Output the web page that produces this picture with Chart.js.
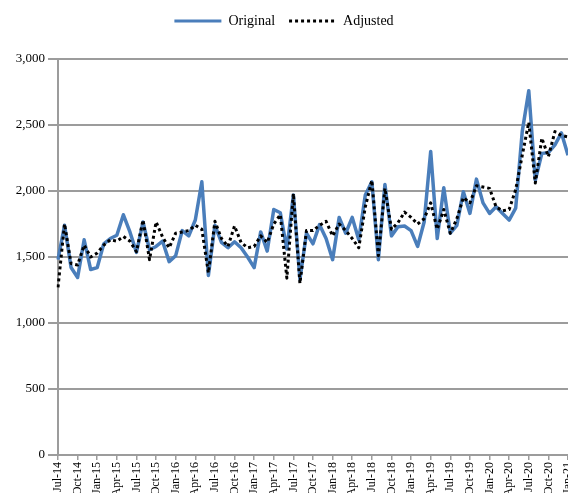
<!DOCTYPE html>
<html>
<head>
<meta charset="utf-8">
<script src="https://cdn.jsdelivr.net/npm/chart.js@4/dist/chart.umd.min.js"></script>
<style>
  html, body { margin: 0; padding: 0; background: #fff; overflow: hidden; width: 568px; height: 493px; }
  #wrap { position: absolute; left: 0; top: 0; width: 600px; height: 515px; }
</style>
</head>
<body>
<div id="wrap"><canvas id="c" width="600" height="515"></canvas></div>
<script>
const months = [
  "Jul-14","Aug-14","Sep-14","Oct-14","Nov-14","Dec-14",
  "Jan-15","Feb-15","Mar-15","Apr-15","May-15","Jun-15","Jul-15","Aug-15","Sep-15","Oct-15","Nov-15","Dec-15",
  "Jan-16","Feb-16","Mar-16","Apr-16","May-16","Jun-16","Jul-16","Aug-16","Sep-16","Oct-16","Nov-16","Dec-16",
  "Jan-17","Feb-17","Mar-17","Apr-17","May-17","Jun-17","Jul-17","Aug-17","Sep-17","Oct-17","Nov-17","Dec-17",
  "Jan-18","Feb-18","Mar-18","Apr-18","May-18","Jun-18","Jul-18","Aug-18","Sep-18","Oct-18","Nov-18","Dec-18",
  "Jan-19","Feb-19","Mar-19","Apr-19","May-19","Jun-19","Jul-19","Aug-19","Sep-19","Oct-19","Nov-19","Dec-19",
  "Jan-20","Feb-20","Mar-20","Apr-20","May-20","Jun-20","Jul-20","Aug-20","Sep-20","Oct-20","Nov-20","Dec-20",
  "Jan-21"
];

const original = [
  1480,1740,1420,1345,1630,1405,
  1420,1600,1640,1665,1820,1690,1535,1765,1555,1580,1620,1465,
  1510,1700,1660,1780,2070,1360,1740,1610,1570,1615,1570,1500,
  1420,1690,1545,1860,1835,1560,1970,1330,1680,1600,1745,1640,
  1480,1800,1680,1800,1630,1970,2070,1480,2050,1660,1730,1735,
  1700,1580,1765,2300,1640,2025,1680,1740,1995,1830,2090,1910,
  1830,1880,1830,1780,1870,2450,2760,2080,2285,2290,2350,2440,
  2270
];

const adjusted = [
  1270,1750,1450,1440,1590,1500,
  1530,1590,1630,1620,1655,1620,1540,1780,1480,1765,1650,1570,
  1680,1690,1700,1740,1710,1380,1770,1640,1580,1735,1610,1570,
  1580,1660,1610,1750,1820,1340,1980,1300,1700,1700,1740,1770,
  1660,1750,1700,1640,1570,1880,2080,1510,2020,1710,1760,1840,
  1800,1750,1790,1910,1710,1860,1680,1790,1950,1910,2040,2030,
  2020,1880,1850,1860,2010,2270,2520,2060,2400,2260,2450,2420,
  2410
];

const yTicks = [0, 500, 1000, 1500, 2000, 2500, 3000];
const seriesNames = ["Original", "Adjusted"];

const GRID = '#9c9c9c';
const SERIF = '"Liberation Serif", "Times New Roman", serif';

new Chart(document.getElementById('c'), {
  type: 'line',
  data: {
    labels: months,
    datasets: [
      {
        label: seriesNames[0],
        data: original,
        borderColor: '#4a7ebb',
        backgroundColor: '#4a7ebb',
        borderWidth: 3.5,
        borderJoinStyle: 'round',
        pointRadius: 0,
        tension: 0,
        order: 1
      },
      {
        label: seriesNames[1],
        data: adjusted,
        borderColor: '#000000',
        backgroundColor: '#000000',
        borderWidth: 3,
        borderDash: [3, 3],
        borderCapStyle: 'butt',
        borderJoinStyle: 'round',
        pointRadius: 0,
        tension: 0,
        order: 0
      }
    ]
  },
  options: {
    responsive: false,
    animation: false,
    layout: { padding: { left: 0, right: 32, top: 0, bottom: 0 } },
    plugins: {
      tooltip: { enabled: false },
      legend: {
        display: true,
        position: 'top',
        align: 'center',
        labels: {
          usePointStyle: true,
          pointStyle: 'line',
          pointStyleWidth: 47,
          boxHeight: 14,
          padding: 14,
          color: '#000',
          font: { family: SERIF, size: 14 },
          sort: (a, b) => a.datasetIndex - b.datasetIndex,
          generateLabels: (chart) => {
            const items = Chart.defaults.plugins.legend.labels.generateLabels(chart);
            items.forEach((it) => {
              const ds = chart.data.datasets[it.datasetIndex];
              it.pointStyle = 'line';
              it.strokeStyle = ds.borderColor;
              it.fillStyle = ds.borderColor;
              it.lineWidth = 3;
              it.lineDash = ds.borderDash || [];
              it.lineCap = 'butt';
            });
            return items;
          }
        }
      },
      subtitle: {
        display: true,
        text: ' ',
        position: 'top',
        weight: 100,
        font: { size: 1, lineHeight: 1 },
        padding: { top: 10, bottom: 10 }
      }
    },
    scales: {
      x: {
        type: 'category',
        offset: false,
        afterFit: (s) => { s.height = 60; },
        grid: {
          display: true,
          drawOnChartArea: false,
          drawTicks: true,
          tickLength: 5,
          lineWidth: 1.5,
          color: (ctx) => (ctx.index % 3 === 0 ? GRID : 'rgba(0,0,0,0)')
        },
        border: { display: true, color: GRID, width: 2 },
        ticks: {
          autoSkip: false,
          maxRotation: 90,
          minRotation: 90,
          padding: 2,
          color: '#000',
          font: { family: SERIF, size: 12 },
          callback: function (value, index) {
            return index % 3 === 0 ? months[index] : '';
          }
        }
      },
      y: {
        min: yTicks[0],
        max: yTicks[yTicks.length - 1],
        afterFit: (s) => { s.width = 58; },
        afterBuildTicks: (s) => { s.ticks = yTicks.map(v => ({ value: v })); },
        grid: {
          color: GRID,
          lineWidth: 2,
          drawTicks: true,
          tickLength: 10
        },
        border: { display: true, color: GRID, width: 2 },
        ticks: {
          padding: 3,
          color: '#000',
          font: { family: SERIF, size: 13 },
          callback: (v) => v.toLocaleString('en-US')
        }
      }
    }
  }
});
</script>
</body>
</html>
